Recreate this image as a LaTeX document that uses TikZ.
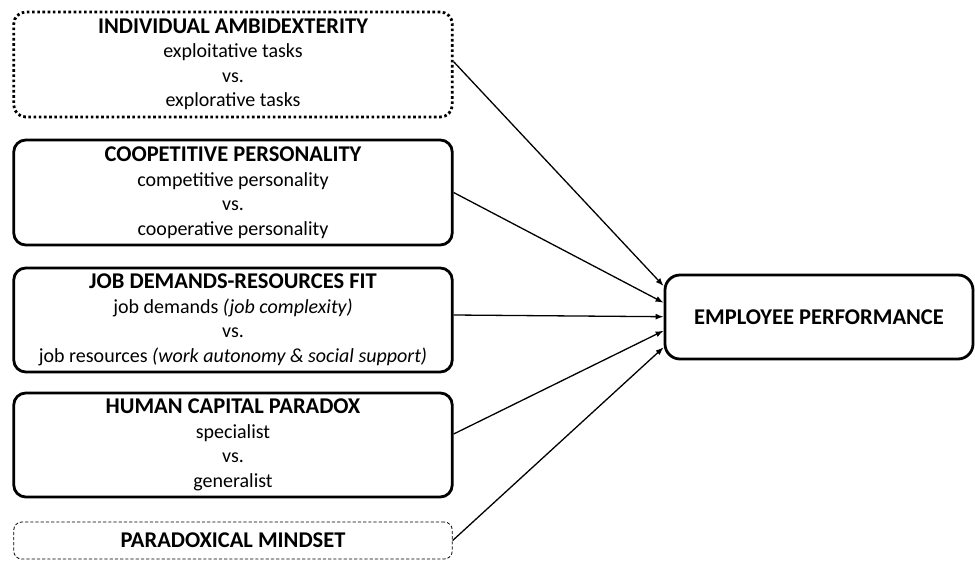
\documentclass[tikz,border=0pt]{standalone}
\usepackage{fontspec}
\setmainfont{Carlito}
\usetikzlibrary{arrows.meta}
\begin{document}
\begin{tikzpicture}[x=1pt,y=-1pt,
  box/.style={draw=black, rounded corners=12pt, minimum width=438.5pt, align=center, inner sep=0pt},
  solidbox/.style={box, line width=2.8pt},
  dotbox/.style={box, line width=2.8pt, dash pattern=on 2.6pt off 2.6pt},
  dashbox/.style={box, line width=0.8pt, dash pattern=on 3.2pt off 2pt, rounded corners=8pt},
  outbox/.style={draw=black, line width=2.8pt, rounded corners=15pt, minimum width=308pt, minimum height=84pt, align=center},
  title/.style={font=\fontsize{22.5}{24.5}\selectfont\bfseries},
  body/.style={font=\fontsize{20}{24.5}\selectfont},
  arr/.style={line width=1.3pt, -{Latex[length=8pt,width=6pt]}}]
\newcommand\headline[1]{{\bfseries\fontsize{22.5}{24.5}\selectfont #1}}
\useasboundingbox (0,0) rectangle (975,563);

% predictors
\node[dotbox, minimum height=105pt, body] (b1) at (233,64.5)
  {\headline{INDIVIDUAL AMBIDEXTERITY}\\exploitative tasks\\vs.\\explorative tasks};
\node[solidbox, minimum height=105pt, body] (b2) at (233,192.5)
  {\headline{COOPETITIVE PERSONALITY}\\competitive personality\\vs.\\cooperative personality};
\node[solidbox, minimum height=104pt, body] (b3) at (233,320)
  {\headline{JOB DEMANDS-RESOURCES FIT}\\job demands \textit{(job complexity)}\\vs.\\job resources \textit{(work autonomy \& social support)}};
\node[solidbox, minimum height=104pt, body] (b4) at (233,445)
  {\headline{HUMAN CAPITAL PARADOX}\\specialist\\vs.\\generalist};
\node[dashbox, minimum height=37pt, title] (b5) at (233,540.5) {PARADOXICAL MINDSET};

% outcome
\node[outbox, title] (ep) at (819,317) {EMPLOYEE PERFORMANCE};

% links
\draw[arr] ([yshift=2.8pt]b1.east) -- ([yshift=31pt]ep.west);
\draw[arr] (b2.east) -- ([yshift=14.3pt]ep.west);
\draw[arr] ([yshift=5pt]b3.east) -- ([yshift=0.3pt]ep.west);
\draw[arr] ([yshift=11pt]b4.east) -- ([yshift=-13.7pt]ep.west);
\draw[arr] (b5.east) -- ([yshift=-30.3pt]ep.west);
\end{tikzpicture}
\end{document}
